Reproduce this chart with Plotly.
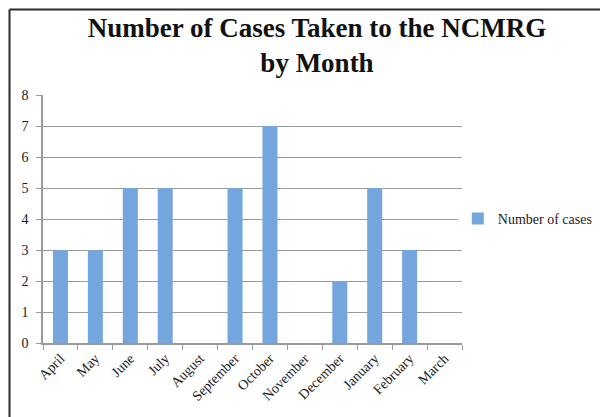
import plotly.graph_objects as go

# Data
months = ['April', 'May', 'June', 'July', 'August', 'September', 'October',
          'November', 'December', 'January', 'February', 'March']
cases = [3, 3, 5, 5, 0, 5, 7, 0, 2, 5, 3, 0]
y_ticks = [0, 1, 2, 3, 4, 5, 6, 7, 8]

SERIF = 'Liberation Serif, DejaVu Serif, serif'

# the page body adds an 8px margin, so the figure is 8px smaller than the window
W, H = 600, 409
ML, MR, MT, MB = 35, 146, 87, 74
PW, PH = W - ML - MR, H - MT - MB

fig = go.Figure()

fig.add_trace(go.Bar(
    x=months,
    y=cases,
    name='Number of cases',
    marker=dict(color='#74a5dc', line=dict(width=0)),
))

fig.update_layout(
    width=W,
    height=H,
    margin=dict(l=ML, r=MR, t=MT, b=MB, autoexpand=False),
    paper_bgcolor='white',
    plot_bgcolor='white',
    bargap=0.57,
    showlegend=True,
    title=dict(
        text='<b>Number of Cases Taken to the NCMRG<br>by Month</b>',
        x=0.515, xanchor='center',
        yref='container', y=0.929, yanchor='middle',
        font=dict(family=SERIF, size=27, color='#111111'),
    ),
    legend=dict(
        x=0.99, xanchor='left', y=0.5, yanchor='middle',
        font=dict(family=SERIF, size=14, color='#222222'),
        itemwidth=30,
    ),
    font=dict(family=SERIF, size=12, color='#222222'),
)

fig.update_xaxes(
    automargin=False,
    tickangle=-45,
    tickson='boundaries',
    ticks='outside', ticklen=5, tickcolor='#9a9a9a',
    showline=True, linecolor='#9a9a9a', linewidth=1.5,
    showgrid=False,
    tickfont=dict(family=SERIF, size=14, color='#1a1a1a'),
)

fig.update_yaxes(
    automargin=False,
    range=[0, 8],
    tickvals=y_ticks,
    ticks='outside', ticklen=5, tickcolor='#9a9a9a',
    ticklabelstandoff=5,
    showline=True, linecolor='#9a9a9a', linewidth=1.5,
    showgrid=True, gridcolor='#9a9a9a', gridwidth=1.2,
    zeroline=False,
    tickfont=dict(family=SERIF, size=14, color='#1a1a1a'),
)

# outer chart frame (left and top edges visible in the original)
fx = (1.5 - ML) / PW
fy = (H - MB - 1.5) / PH
fig.add_shape(type='line', xref='paper', yref='paper',
              x0=fx, x1=fx, y0=-1, y1=fy,
              line=dict(color='#2a2a2a', width=2))
fig.add_shape(type='line', xref='paper', yref='paper',
              x0=fx, x1=2, y0=fy, y1=fy,
              line=dict(color='#2a2a2a', width=2))

fig.write_html("out.html")
